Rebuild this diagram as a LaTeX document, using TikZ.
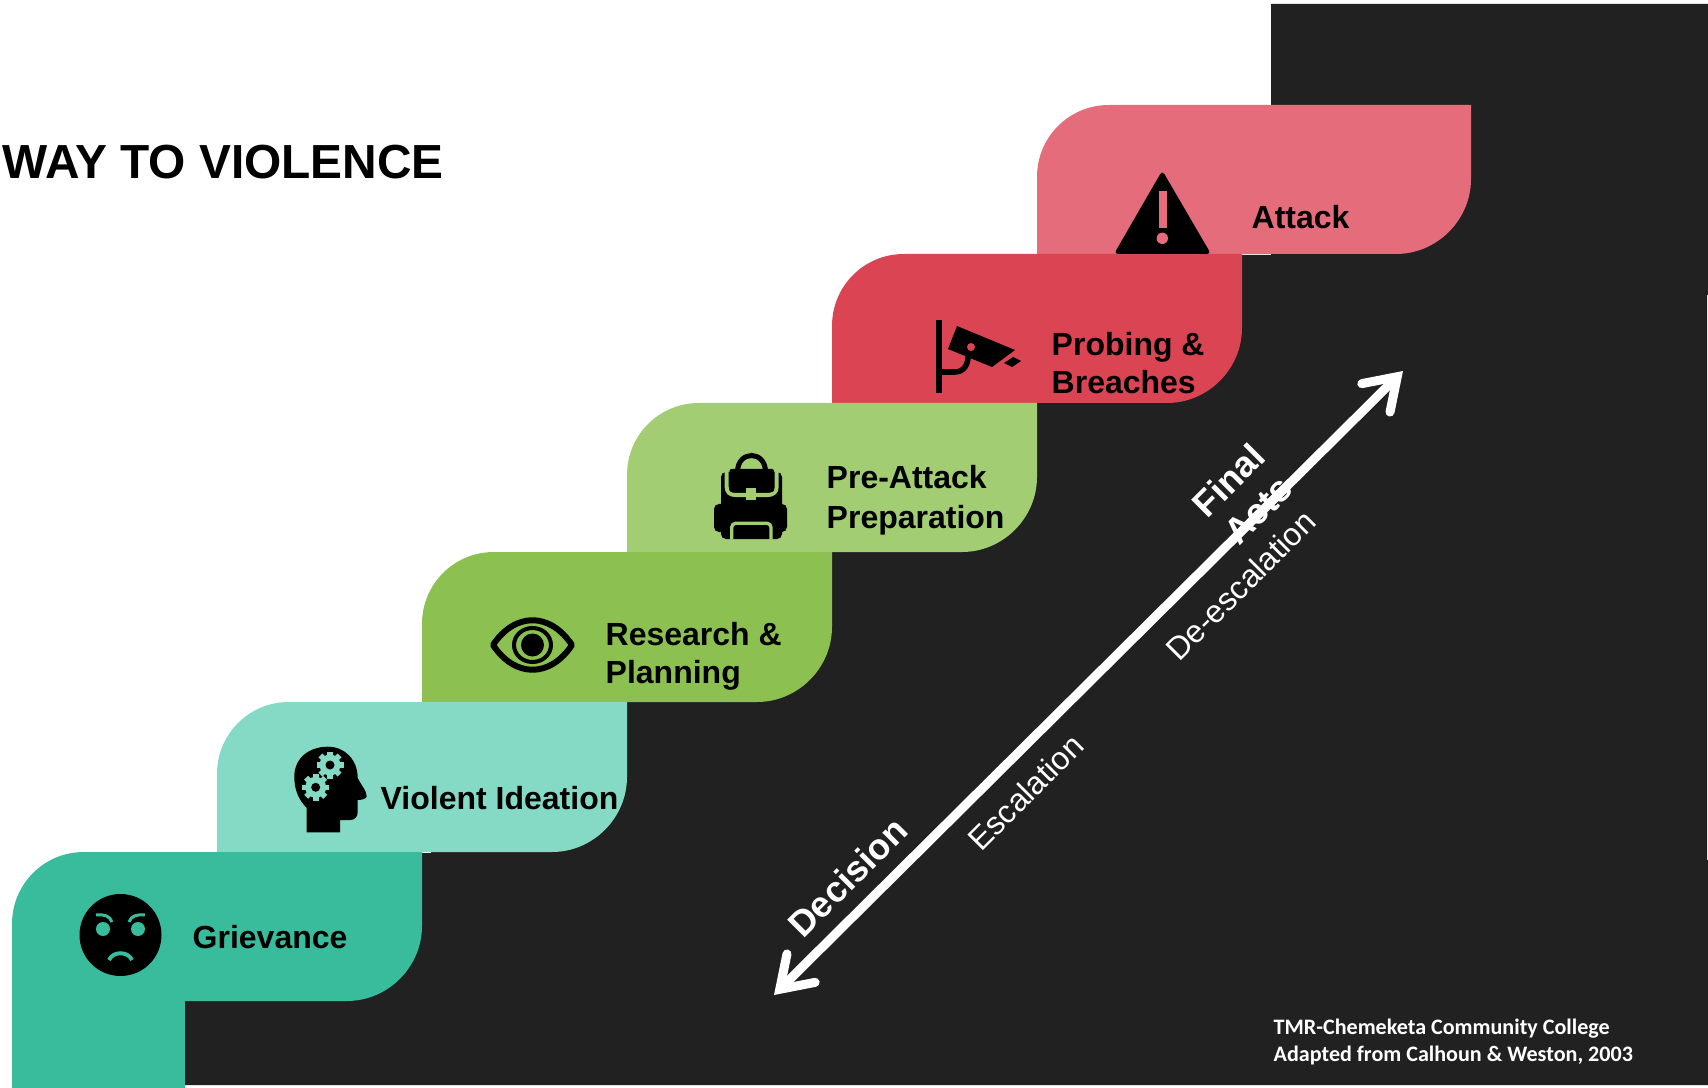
\documentclass[tikz,border=0pt]{standalone}
\usepackage{fontspec}
\setmainfont{Liberation Sans}
\newfontfamily\notefont{Carlito}
\usetikzlibrary{arrows.meta}

\definecolor{darkback}{HTML}{212121}
\definecolor{grievcol}{HTML}{38BC9C}
\definecolor{ideacol}{HTML}{84DAC4}
\definecolor{plancol}{HTML}{8CC152}
\definecolor{prepcol}{HTML}{A2CD73}
\definecolor{probecol}{HTML}{DA4453}
\definecolor{attackcol}{HTML}{E46C7B}

\tikzset{
  steplabel/.style={anchor=base west,inner sep=0pt,align=left,text=black,
    font=\fontsize{9.1}{10.8}\selectfont\bfseries},
  boldslant/.style={inner sep=0pt,text=white,rotate=45,align=center,
    font=\fontsize{10.3}{12}\selectfont\bfseries},
  thinslant/.style={anchor=base west,inner sep=0pt,text=white,rotate=45,
    font=\fontsize{9.1}{10.8}\selectfont},
  twoway/.style={white,line width=0.09cm,
    {Straight Barb[length=0.3cm,width=0.4cm,line cap=round,line join=miter]}-{Straight Barb[length=0.3cm,width=0.4cm,line cap=round,line join=miter]}}
}

% left, right, top, bottom, colour
\newcommand{\stairblock}[5]{
  \fill[#5] (#1,#4) -- (#1,#3+72) .. controls (#1,#3+32) and (#1+32,#3) .. (#1+72,#3)
    -- (#2,#3) -- (#2,#4-75) .. controls (#2,#4-34) and (#2-34,#4) .. (#2-75,#4) -- cycle;
}
% x, y, colour
\newcommand{\gearicon}[3]{
  \fill[#3] (#1,#2) circle [radius=10.5];
  \foreach \a in {0,45,...,315}
    \fill[#3,rotate around={\a:(#1,#2)}] (#1-2.8,#2-13.5) rectangle (#1+2.8,#2);
  \fill[black] (#1,#2) circle [radius=4.5];
}

\begin{document}
\begin{tikzpicture}[x=0.01cm,y=-0.01cm]
        \useasboundingbox (0,0) rectangle (1708,1088);
        % Dark stairs behind
        \fill[darkback] (1271,4) -- (1708,4) -- (1708,295) -- (1707,295) -- (1707,860) -- (1708,860)
          -- (1708,1085) -- (185,1085) -- (185,940) -- (340,940) -- (340,853) -- (431,853)
          -- (431,790) -- (545,790) -- (545,702) -- (755,702) -- (755,552) -- (960,552)
          -- (960,403) -- (1165,403) -- (1165,255) -- (1271,255) -- cycle;
        % Steps
        \stairblock{1037}{1471}{105}{254}{attackcol}
        \stairblock{832}{1242}{254}{403}{probecol}
        \stairblock{627}{1037}{403}{552}{prepcol}
        \stairblock{422}{832}{552}{702}{plancol}
        \stairblock{217}{627}{702}{852}{ideacol}
        \stairblock{12}{422}{852}{1001}{grievcol}
        \fill[grievcol] (12,990) rectangle (185,1088);

        % Title
        \node[anchor=base west,inner sep=0pt,font=\fontsize{13.6}{16}\selectfont\bfseries] (title) at (2,178.5) {WAY TO VIOLENCE};

        % Step labels
        \node[steplabel] (grievance) at (192,948) {Grievance};
        \node[steplabel] (ideation) at (380,809) {Violent Ideation};
        \node[steplabel] (research) at (605,683) {Research \&\\Planning};
        \node[steplabel] (prepare) at (826,528) {Pre-Attack\\[0.5pt]Preparation};
        \node[steplabel] (probing) at (1051,393.5) {Probing \&\\Breaches};
        \node[steplabel] (attack) at (1251,229) {Attack};

        % Face
        \fill[black] (120.5,935) circle [radius=41];
        \fill[grievcol] (103,929) circle [radius=7];
        \fill[grievcol] (138,929) circle [radius=7];
        \draw[grievcol,line width=0.03cm] (96,915) .. controls (104,914) and (110,916) .. (112,922);
        \draw[grievcol,line width=0.03cm] (145,915) .. controls (137,914) and (131,916) .. (129,922);
        \draw[grievcol,line width=0.04cm] (109,960) .. controls (113,951) and (128,951) .. (132,960);

        % Head with gears
        \fill[black] (306.7,832.3) -- (306.7,808) .. controls (298,799) and (294.3,789) .. (294.3,776.7)
          .. controls (294.3,758) and (309,746.7) .. (328,746.7)
          .. controls (345,746.7) and (357.7,760) .. (357.7,778)
          .. controls (361,785) and (367,791) .. (366.7,796.7)
          .. controls (366,799) and (361,800) .. (357.7,800) -- (357.7,811.7)
          .. controls (357.7,817) and (355,820) .. (350,820) -- (340,820) -- (340,832.3) -- cycle;
        \gearicon{330}{765}{ideacol}
        \gearicon{315.7}{787.3}{ideacol}

        % Eye
        \draw[black,line width=0.06cm,line join=round] (493,645) .. controls (515,612) and (550,612) .. (572,645)
          .. controls (550,678) and (515,678) .. (493,645) -- cycle;
        \draw[black,line width=0.04cm] (532.5,645) ellipse [x radius=18.5,y radius=17];
        \fill[black] (532.5,645) circle [radius=11.5];

        % Backpack
        \draw[black,line width=0.05cm] (737.5,472) .. controls (737.5,450) and (765.5,450) .. (765.5,472);
        \fill[black,rounded corners=0.05cm] (714,504) rectangle (787,532);
        \fill[black,rounded corners=0.05cm] (721,472) rectangle (782,539);
        \draw[prepcol,line width=0.04cm] (726.7,466) -- (726.7,487) .. controls (726.7,492) and (730,495) .. (735,495)
          -- (768,495) .. controls (773,495) and (776.7,492) .. (776.7,487) -- (776.7,466);
        \fill[black,rounded corners=0.02cm] (729.5,469) rectangle (774,492);
        \fill[prepcol] (746,488) rectangle (756,500);
        \draw[prepcol,line width=0.033cm,rounded corners=0.04cm] (731.7,539.5) -- (731.7,523.3) -- (771,523.3) -- (771,539.5);

        % Camera
        \draw[black,line width=0.057cm] (939,320) -- (939,392.7);
        \draw[black,line width=0.055cm] (939,372) -- (955,372) .. controls (964,372) and (969,364) .. (968,353);
        \fill[black] (957,326) -- (1015,350) -- (992,367) -- (948,349) -- cycle;
        \fill[probecol] (971,347) circle [radius=4];
        \fill[black] (1013,357) -- (1021,361) -- (1012,367) -- (1004,363) -- cycle;

        % Warning sign
        \fill[black,rounded corners=0.04cm] (1162.3,170.5) -- (1211,254) -- (1114,254) -- cycle;
        \fill[attackcol] (1159.3,191) rectangle (1166.7,228);
        \fill[attackcol] (1162.3,238.3) circle [radius=5.7];

        % Arrow
        \coordinate (lowend) at (774,995);
        \coordinate (highend) at (1403,371);
        \draw[twoway] (lowend) -- (highend);
        \node[boldslant] (finalacts) at (1243,495) {Final\\Acts};
        \node[boldslant,anchor=base west] (decision) at (803,940) {Decision};
        \node[thinslant] (escalate) at (981,853) {Escalation};
        \node[thinslant] (deescalate) at (1179,663) {De-escalation};

        % Credit
        \node[anchor=base west,inner sep=0pt,align=left,text=white,font=\notefont\fontsize{6.28}{7.4}\selectfont\bfseries] (credit) at (1273,1061)
          {TMR-Chemeketa Community College\\Adapted from Calhoun \& Weston, 2003};
\end{tikzpicture}
\end{document}
